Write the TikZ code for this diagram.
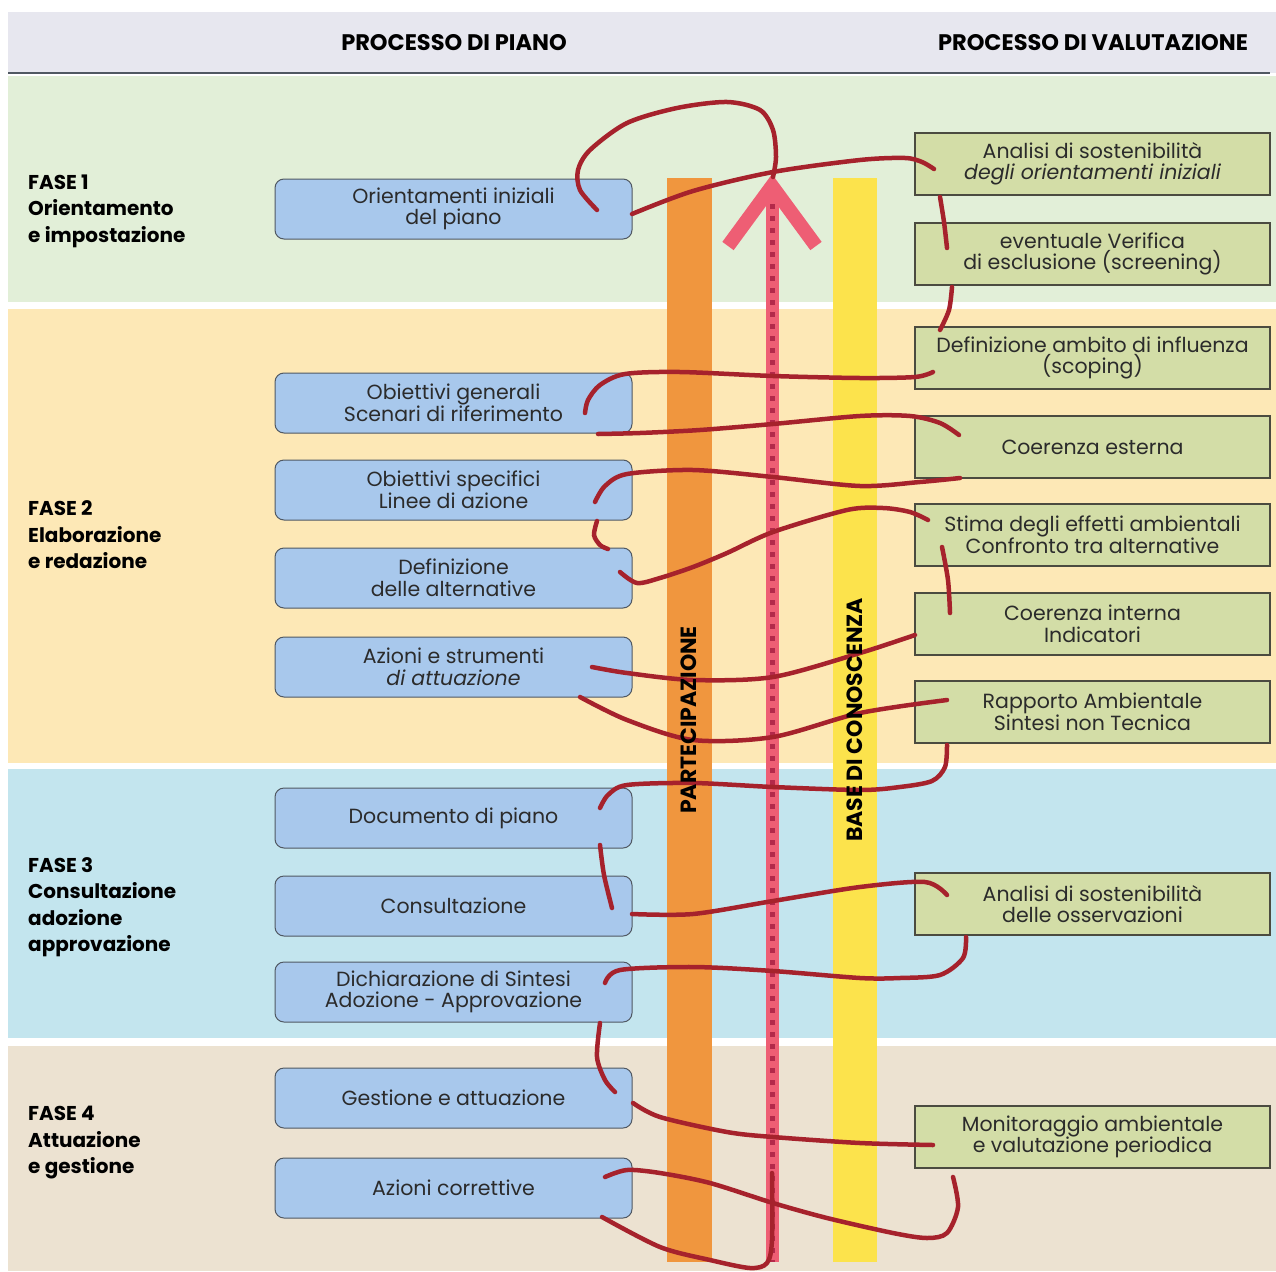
\documentclass[tikz,border=0pt]{standalone}
\usepackage{fontspec}
\setmainfont{Poppins}
\usepackage{tikz}

\definecolor{headgray}{HTML}{E7E7EF}
\definecolor{phaseone}{HTML}{E2EFD8}
\definecolor{phasetwo}{HTML}{FDE8B6}
\definecolor{phasethree}{HTML}{C3E5EE}
\definecolor{phasefour}{HTML}{ECE2D1}
\definecolor{planfill}{HTML}{A8C8EC}
\definecolor{planline}{HTML}{505862}
\definecolor{evalfill}{HTML}{D3DDA7}
\definecolor{evalline}{HTML}{4B4B40}
\definecolor{partorange}{HTML}{F0963E}
\definecolor{baseyellow}{HTML}{FCE34C}
\definecolor{spinepink}{HTML}{EE5E74}
\definecolor{spinedot}{HTML}{B3294A}
\definecolor{coilred}{HTML}{A6222C}
\definecolor{textgray}{HTML}{2B2B2B}

\begin{document}
\begin{tikzpicture}[x=1pt, y=-1pt,
    planbox/.style={draw=planline, fill=planfill, line width=1pt,
      rounded corners=9pt, minimum width=357pt, minimum height=60pt,
      align=center, inner sep=0pt, text=textgray,
      font=\fontsize{20.5}{21.5}\selectfont},
    evalbox/.style={draw=evalline, fill=evalfill, line width=1.2pt,
      minimum width=355pt, minimum height=62pt,
      align=center, inner sep=0pt, text=textgray,
      font=\fontsize{20.5}{21.5}\selectfont},
    phaselabel/.style={anchor=west, align=left, inner sep=0pt,
      font=\bfseries\fontsize{20}{26.5}\selectfont},
    heading/.style={font=\bfseries\fontsize{22.5}{24}\selectfont},
    barlabel/.style={rotate=90, inner sep=0pt,
      font=\bfseries\fontsize{22}{24}\selectfont},
    coil/.style={draw=coilred, line width=4.5pt, line cap=round}]
    \useasboundingbox (0,0) rectangle (1276,1271);

    \fill[headgray] (8,12) rectangle (1276,73);
    \fill[phaseone] (8,76) rectangle (1276,302);
    \fill[phasetwo] (8,309) rectangle (1276,763);
    \fill[phasethree] (8,769) rectangle (1276,1038);
    \fill[phasefour] (8,1046) rectangle (1276,1271);
    \draw[planline, line width=1.2pt] (8,73) -- (1270,73);

    \node (headplan) at (454, 43) [heading] {PROCESSO DI PIANO};
    \node (headeval) at (1093, 43) [heading] {PROCESSO DI VALUTAZIONE};

    \node (fase1) at (28, 211) [phaselabel] {FASE 1\\Orientamento\\e impostazione};
    \node (fase2) at (28, 535) [phaselabel] {FASE 2\\Elaborazione\\e redazione};
    \node (fase3) at (28, 907) [phaselabel] {FASE 3\\Consultazione\\adozione\\approvazione};
    \node (fase4) at (28, 1143) [phaselabel] {FASE 4\\Attuazione\\e gestione};

    \fill[partorange] (667,178) rectangle (712,1262);
    \fill[baseyellow] (833,178) rectangle (877,1262);

    \coordinate (spinetop) at (772,186);
    \coordinate (spinebot) at (772,1262);
    \draw[spinepink, line width=13pt] (spinetop) -- (spinebot);
    \draw[spinedot, line width=5pt, dash pattern=on 5pt off 7pt] ([yshift=6pt]spinetop) -- (spinebot);
    \draw[spinepink, line width=14pt, line join=miter] (728,246) -- (spinetop) -- (816,246);

    \node (orient) at (453.5, 209) [planbox] {Orientamenti iniziali\\del piano};
    \node (obgen) at (453.5, 403) [planbox] {Obiettivi generali\\Scenari di riferimento};
    \node (obspec) at (453.5, 490) [planbox] {Obiettivi specifici\\Linee di azione};
    \node (altern) at (453.5, 578) [planbox] {Definizione\\delle alternative};
    \node (azioni) at (453.5, 667) [planbox] {Azioni e strumenti\\\itshape di attuazione};
    \node (docpiano) at (453.5, 818) [planbox] {Documento di piano};
    \node (consult) at (453.5, 906) [planbox] {Consultazione};
    \node (dichiar) at (453.5, 992) [planbox] {Dichiarazione di Sintesi\\Adozione - Approvazione};
    \node (gestione) at (453.5, 1098) [planbox] {Gestione e attuazione};
    \node (corrett) at (453.5, 1188) [planbox] {Azioni correttive};

    \node (analisi) at (1092.5, 164) [evalbox] {Analisi di sostenibilità\\\itshape degli orientamenti iniziali};
    \node (verifica) at (1092.5, 254) [evalbox] {eventuale Verifica\\di esclusione (screening)};
    \node (scoping) at (1092.5, 358) [evalbox] {Definizione ambito di influenza\\(scoping)};
    \node (coerest) at (1092.5, 447) [evalbox] {Coerenza esterna};
    \node (stima) at (1092.5, 535) [evalbox] {Stima degli effetti ambientali\\Confronto tra alternative};
    \node (coerint) at (1092.5, 624) [evalbox] {Coerenza interna\\Indicatori};
    \node (rapporto) at (1092.5, 712) [evalbox] {Rapporto Ambientale\\Sintesi non Tecnica};
    \node (osserv) at (1092.5, 904) [evalbox] {Analisi di sostenibilità\\delle osservazioni};
    \node (monit) at (1092.5, 1137) [evalbox] {Monitoraggio ambientale\\e valutazione periodica};

    \draw[coil] plot[smooth] coordinates {(597,210) (580,190) (578,170) (590,150) (627,123) (677,108) (727,102) (760,110) (773,130) (776,157) (773,177)};
    \draw[coil] plot[smooth] coordinates {(632,214) (693,191) (773,172) (860,160) (905,158) (922,162) (934,169)};
    \draw[coil] plot[smooth] coordinates {(940,197) (944,222) (947,248)};
    \draw[coil] plot[smooth] coordinates {(952,287) (949,310) (940,330)};
    \draw[coil] plot[smooth] coordinates {(933,372) (915,377) (860,378) (773,376) (680,372) (625,374) (600,385) (588,400) (585,413)};
    \draw[coil] plot[smooth] coordinates {(598,434) (640,433) (700,430) (773,424) (860,416) (910,416) (940,423) (959,435)};
    \draw[coil] plot[smooth] coordinates {(960,478) (920,482) (860,486) (773,477) (693,470) (627,474) (605,486) (595,502)};
    \draw[coil] plot[smooth] coordinates {(597,521) (594,535) (600,545) (608,549)};
    \draw[coil] plot[smooth] coordinates {(928,520) (910,512) (883,508) (847,510) (773,532) (727,553) (693,567) (660,578) (637,583) (620,572)};
    \draw[coil] plot[smooth] coordinates {(942,547) (948,580) (950,613)};
    \draw[coil] plot[smooth] coordinates {(915,635) (860,653) (773,677) (693,680) (627,673) (592,667)};
    \draw[coil] plot[smooth] coordinates {(580,697) (627,720) (693,740) (773,737) (860,713) (947,700)};
    \draw[coil] plot[smooth] coordinates {(947,745) (945,767) (932,781) (900,787) (860,790) (773,787) (693,783) (627,785) (608,795) (600,808)};
    \draw[coil] plot[smooth] coordinates {(600,845) (604,875) (612,908)};
    \draw[coil] plot[smooth] coordinates {(632,914) (693,914) (773,901) (860,887) (925,882) (947,895)};
    \draw[coil] plot[smooth] coordinates {(966,937) (963,958) (940,975) (900,978) (860,978) (773,971) (693,967) (620,970) (605,983)};
    \draw[coil] plot[smooth] coordinates {(600,1023) (597,1057) (605,1080) (615,1092)};
    \draw[coil] plot[smooth] coordinates {(633,1103) (660,1117) (727,1132) (773,1137) (860,1143) (933,1145)};
    \draw[coil] plot[smooth] coordinates {(953,1177) (958,1207) (947,1233) (927,1238) (893,1233) (827,1218) (773,1203) (710,1183) (660,1173) (627,1170) (605,1177)};
    \draw[coil] plot[smooth] coordinates {(602,1217) (660,1247) (710,1260) (750,1268) (767,1263) (772,1240) (772,1173)};

    \node (partecip) at (689, 720) [barlabel] {PARTECIPAZIONE};
    \node (conoscenza) at (855, 720) [barlabel] {BASE DI CONOSCENZA};
  \end{tikzpicture}
\end{document}
